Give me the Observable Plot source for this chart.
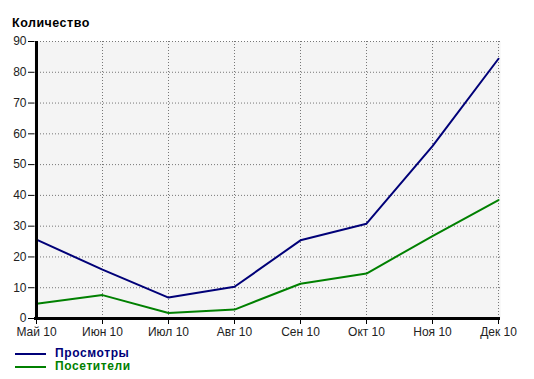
<!DOCTYPE html>
<html>
<head>
<meta charset="utf-8">
<script src="https://cdn.jsdelivr.net/npm/d3@7"></script>
<script src="https://cdn.jsdelivr.net/npm/@observablehq/plot@0.6"></script>
<style>
  html, body { margin: 0; padding: 0; background: #fff; }
  #wrap { position: relative; width: 534px; height: 379px; font-family: "Liberation Sans", Arial, sans-serif; }
  #title { position: absolute; left: 12px; top: 16px; font-size: 12.5px; font-weight: bold; color: #000; letter-spacing: 0.5px; }
  #legend { position: absolute; left: 15px; top: 347px; font-size: 12px; font-weight: bold; line-height: 13px; letter-spacing: 0.6px; }
  .item { display: flex; align-items: center; height: 13px; }
  .sw { display: inline-block; width: 31px; height: 2px; margin-right: 9px; }
</style>
</head>
<body>
<div id="wrap">
  <div id="title">Количество</div>
  <div id="chart"></div>
  <div id="legend"></div>
</div>
<script>
const months = ["Май 10", "Июн 10", "Июл 10", "Авг 10", "Сен 10", "Окт 10", "Ноя 10", "Дек 10"];
const views = [25.6, 15.9, 6.8, 10.3, 25.4, 30.8, 56, 84.4];
const visitors = [4.8, 7.6, 1.8, 2.9, 11.3, 14.6, 26.8, 38.5];
const seriesNames = ["Просмотры", "Посетители"];
const seriesColors = ["#000078", "#008000"];
const yTicks = [0, 10, 20, 30, 40, 50, 60, 70, 80, 90];

const data = [];
months.forEach((m, i) => {
  data.push({month: m, value: views[i], series: seriesNames[0]});
  data.push({month: m, value: visitors[i], series: seriesNames[1]});
});

const chart = Plot.plot({
  width: 534,
  height: 379,
  marginTop: 41,
  marginBottom: 61,
  marginLeft: 34,
  marginRight: 34,
  style: {fontFamily: "'Liberation Sans', Arial, sans-serif", fontSize: "12px", color: "#222", background: "transparent"},
  x: {type: "point", domain: months, padding: 0, label: null},
  y: {domain: [0, 90], label: null},
  color: {domain: seriesNames, range: seriesColors},
  marks: [
    Plot.frame({fill: "#f4f4f4", stroke: null}),
    Plot.gridY(yTicks, {stroke: "#777", strokeOpacity: 1, strokeDasharray: "1,2"}),
    Plot.gridX(months, {stroke: "#777", strokeOpacity: 1, strokeDasharray: "1,2"}),
    Plot.axisY(yTicks, {tickSize: 6, tickPadding: 2, stroke: "#000", fill: "#222", fontSize: 12}),
    Plot.axisX(months, {tickSize: 6, tickPadding: 3, stroke: "#000", fill: "#222", fontSize: 12}),
    Plot.line(data, {x: "month", y: "value", stroke: "series", strokeWidth: 2, z: "series"}),
    Plot.ruleY([0], {stroke: "#000", strokeWidth: 3}),
    Plot.ruleX([months[0]], {stroke: "#000", strokeWidth: 3})
  ]
});
document.getElementById("chart").appendChild(chart);

const legend = document.getElementById("legend");
seriesNames.forEach((name, i) => {
  const row = document.createElement("div");
  row.className = "item";
  row.innerHTML = `<span class="sw" style="background:${seriesColors[i]}"></span><span style="color:${seriesColors[i]}">${name}</span>`;
  legend.appendChild(row);
});
</script>
</body>
</html>
